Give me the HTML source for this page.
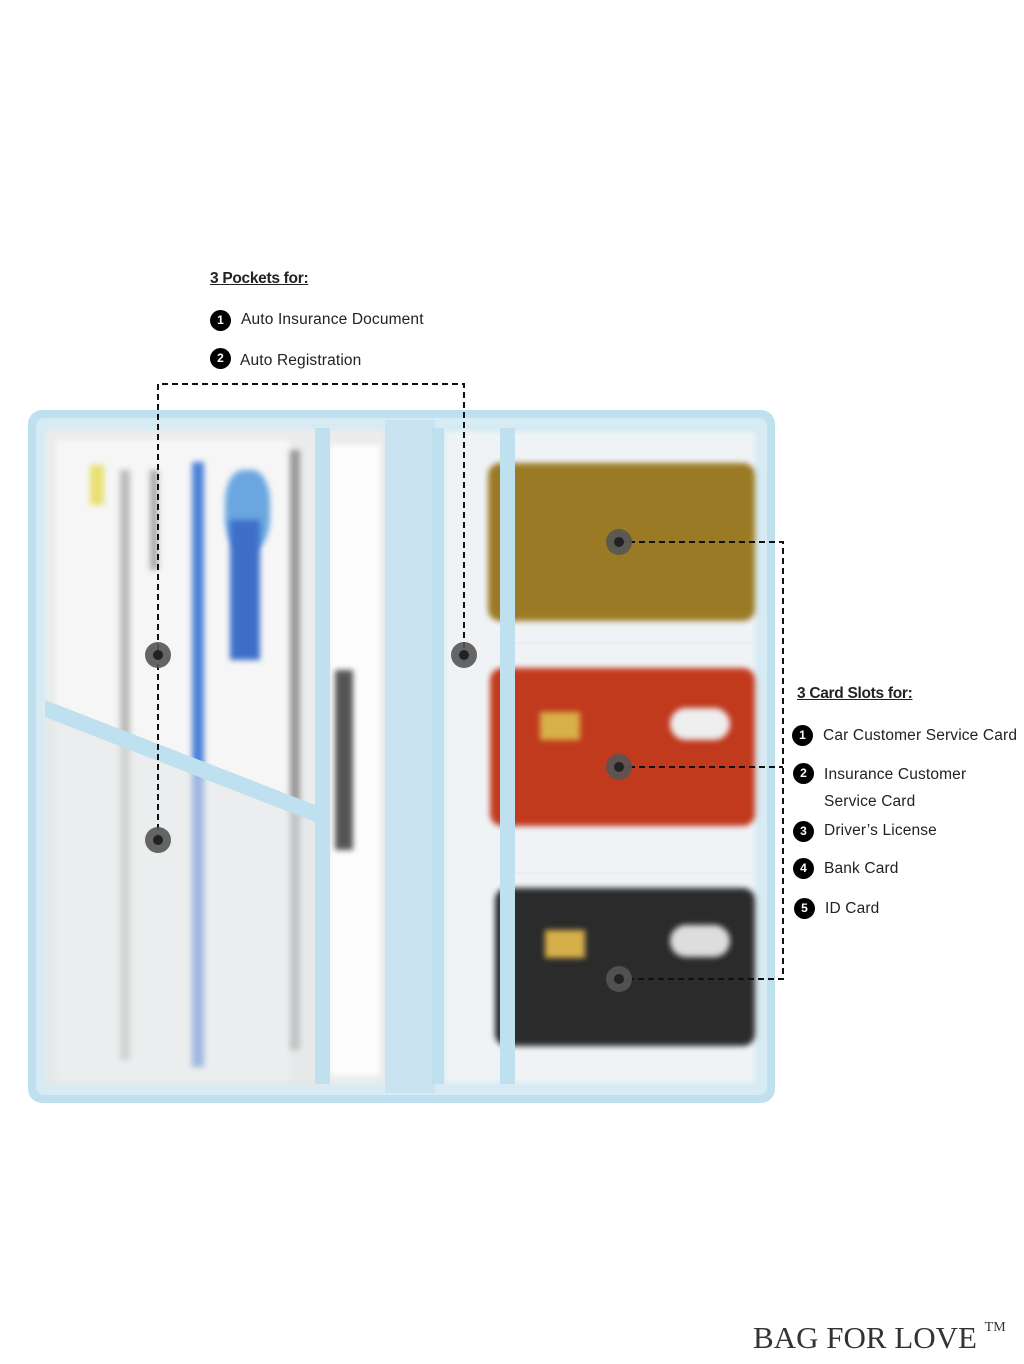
<!DOCTYPE html>
<html><head><meta charset="utf-8">
<style>
body{margin:0;width:1024px;height:1364px;background:#fff;position:relative;overflow:hidden;font-family:"Liberation Sans",sans-serif;color:#111}
.a{position:absolute}
.h{font-size:15.5px;font-weight:bold;text-decoration:underline;letter-spacing:-0.3px;color:#222}
.it{font-size:15.5px;letter-spacing:0.15px;color:#222}
.n{position:absolute;width:21px;height:21px;border-radius:50%;background:#000;color:#fff;font-size:12px;font-weight:bold;text-align:center;line-height:21px}
.blur{filter:blur(3px)}
</style></head><body>
<div class="a" style="left:28px;top:410px;width:747px;height:693px;background:#bfe0ee;border-radius:14px"></div>
<div class="a" style="left:36px;top:418px;width:731px;height:677px;background:#d6ebf4;border-radius:8px"></div>
<div class="a blur" style="left:46px;top:430px;width:339px;height:654px;background:#ececec"></div>
<div class="a blur" style="left:56px;top:440px;width:234px;height:640px;background:#f6f6f6"></div>
<div class="a blur" style="left:192px;top:462px;width:12px;height:605px;background:#4d82d8"></div>
<div class="a blur" style="left:225px;top:470px;width:45px;height:80px;background:#6aa6e0;border-radius:40%"></div>
<div class="a blur" style="left:230px;top:520px;width:30px;height:140px;background:#3d6fc8"></div>
<div class="a blur" style="left:330px;top:445px;width:50px;height:630px;background:#fdfdfd"></div>
<div class="a blur" style="left:335px;top:670px;width:18px;height:180px;background:#555"></div>
<div class="a blur" style="left:90px;top:465px;width:14px;height:40px;background:#e8e070"></div>
<div class="a blur" style="left:120px;top:470px;width:10px;height:590px;background:#bbb"></div>
<div class="a blur" style="left:150px;top:470px;width:8px;height:100px;background:#aaa"></div>
<div class="a blur" style="left:290px;top:450px;width:10px;height:600px;background:#999"></div>
<svg class="a" style="left:0;top:0" width="1024" height="1364">
<polygon points="45,700 315,805 315,1085 45,1085" fill="#e2e6e8" opacity="0.55"/>
<polygon points="45,700 315,805 315,822 45,717" fill="#bfe0ee"/>
</svg>
<div class="a" style="left:315px;top:428px;width:15px;height:656px;background:#bfe0ee"></div>
<div class="a" style="left:385px;top:420px;width:50px;height:673px;background:#c9e4f0"></div>
<div class="a blur" style="left:445px;top:432px;width:310px;height:650px;background:#f0f3f6"></div>
<div class="a blur" style="left:488px;top:463px;width:267px;height:158px;background:#9a7a24;border-radius:12px"></div>
<div class="a blur" style="left:490px;top:668px;width:265px;height:158px;background:#c13a1e;border-radius:12px"></div>
<div class="a blur" style="left:540px;top:712px;width:40px;height:28px;background:#d8b04a"></div>
<div class="a blur" style="left:670px;top:708px;width:60px;height:32px;background:#eee;border-radius:16px"></div>
<div class="a blur" style="left:495px;top:888px;width:260px;height:158px;background:#2b2b2b;border-radius:12px"></div>
<div class="a blur" style="left:545px;top:930px;width:40px;height:28px;background:#d8b04a"></div>
<div class="a blur" style="left:670px;top:925px;width:60px;height:32px;background:#ddd;border-radius:16px"></div>
<div class="a" style="left:432px;top:428px;width:12px;height:656px;background:#bfe0ee"></div>
<div class="a" style="left:500px;top:428px;width:15px;height:656px;background:#bfe0ee"></div>
<div class="a" style="left:515px;top:642px;width:240px;height:2px;background:#e8eef2"></div>
<div class="a" style="left:515px;top:872px;width:240px;height:2px;background:#e8eef2"></div>
<svg class="a" style="left:0;top:0" width="1024" height="1364">
<g stroke="#111" stroke-width="2" stroke-dasharray="6,4" fill="none">
<path d="M158,840 V384 H464 V655"/>
<path d="M619,542 H783 V979 H619"/>
<path d="M619,767 H783"/>
</g>
<g fill="#555" opacity="0.9">
<circle cx="158" cy="655" r="13"/><circle cx="158" cy="840" r="13"/><circle cx="464" cy="655" r="13"/>
<circle cx="619" cy="542" r="13"/><circle cx="619" cy="767" r="13"/><circle cx="619" cy="979" r="13"/>
</g>
<g fill="#222"><circle cx="158" cy="655" r="5"/><circle cx="158" cy="840" r="5"/><circle cx="464" cy="655" r="5"/>
<circle cx="619" cy="542" r="5"/><circle cx="619" cy="767" r="5"/><circle cx="619" cy="979" r="5"/></g>
</svg>
<div class="a h" style="left:210px;top:270px">3 Pockets for:</div>
<div class="n" style="left:210px;top:310px">1</div><div class="a it" style="left:241px;top:311px">Auto Insurance Document</div>
<div class="n" style="left:210px;top:348px">2</div><div class="a it" style="left:240px;top:352px">Auto Registration</div>
<div class="a h" style="left:797px;top:685px">3 Card Slots for:</div>
<div class="n" style="left:792px;top:725px">1</div><div class="a it" style="left:823px;top:727px">Car Customer Service Card</div>
<div class="n" style="left:793px;top:763px">2</div><div class="a it" style="left:824px;top:761px;line-height:27px">Insurance Customer<br>Service Card</div>
<div class="n" style="left:793px;top:821px">3</div><div class="a it" style="left:824px;top:822px">Driver’s License</div>
<div class="n" style="left:793px;top:858px">4</div><div class="a it" style="left:824px;top:860px">Bank Card</div>
<div class="n" style="left:794px;top:898px">5</div><div class="a it" style="left:825px;top:900px">ID Card</div>
<div class="a" style="left:753px;top:1320px;font-family:'Liberation Serif',serif;font-size:31px;letter-spacing:0px;color:#333;font-weight:300">BAG FOR LOVE <span style="font-size:14px;vertical-align:top">TM</span></div>
</body></html>
